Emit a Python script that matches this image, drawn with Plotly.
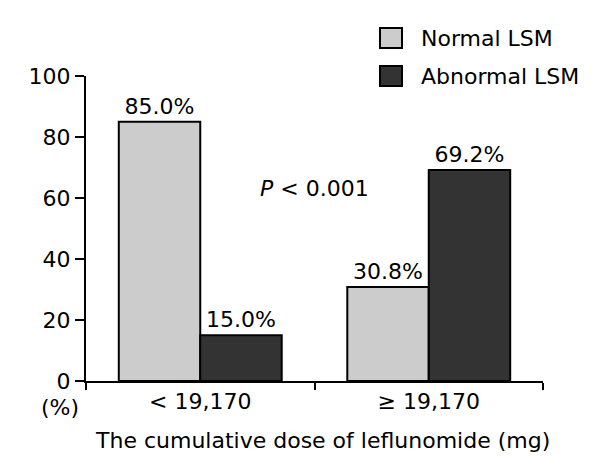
import plotly.graph_objects as go

categories = ["< 19,170", "≥ 19,170"]
normal_lsm = [85.0, 30.8]
abnormal_lsm = [15.0, 69.2]
y_ticks = [0, 20, 40, 60, 80, 100]
series_names = ["Normal LSM", "Abnormal LSM"]
series_colors = ["#cccccc", "#333333"]

FONT = "DejaVu Sans, Liberation Sans, Arial, sans-serif"
FS = 22

fig = go.Figure()
for name, vals, col in zip(series_names, [normal_lsm, abnormal_lsm], series_colors):
    fig.add_trace(go.Bar(
        x=categories, y=vals, name=name,
        marker=dict(color=col, line=dict(color="black", width=2)),
        texttemplate="%{y:.1f}%", textposition="outside",
        textfont=dict(family=FONT, size=FS, color="black"),
        constraintext="none", cliponaxis=False, showlegend=False,
    ))

# manual legend (key boxes + labels) in paper coordinates
W, H = 457, 305  # plot area size in px
def px_to_paper(x, y):
    return (x - 86) / W, (381 - y) / H

for i, (name, col) in enumerate(zip(series_names, series_colors)):
    cy = 38 + 38 * i
    x0, y0 = px_to_paper(380, cy - 10)
    x1, y1 = px_to_paper(402, cy + 10)
    fig.add_shape(type="rect", xref="paper", yref="paper",
                  x0=x0, x1=x1, y0=y1, y1=y0,
                  fillcolor=col, line=dict(color="black", width=2))
    tx, ty = px_to_paper(419, cy)
    fig.add_annotation(xref="paper", yref="paper", x=tx, y=ty,
                       text=name, showarrow=False, xanchor="left", yanchor="middle",
                       font=dict(family=FONT, size=FS, color="black"))

# P value
fig.add_annotation(xref="paper", yref="y", x=0.5, y=63,
                   text="<i>P</i> < 0.001", showarrow=False,
                   xanchor="center", yanchor="middle",
                   font=dict(family=FONT, size=FS, color="black"))
# (%) unit
ux, uy = px_to_paper(60, 407)
fig.add_annotation(xref="paper", yref="paper", x=ux, y=uy, text="(%)",
                   showarrow=False, xanchor="center", yanchor="middle",
                   font=dict(family=FONT, size=FS, color="black"))
# x-axis title
tx, ty = px_to_paper(322, 440)
fig.add_annotation(xref="paper", yref="paper", x=tx, y=ty,
                   text="The cumulative dose of leflunomide (mg)",
                   showarrow=False, xanchor="center", yanchor="middle",
                   font=dict(family=FONT, size=FS, color="black"))

fig.update_layout(
    width=600, height=475,
    margin=dict(l=78, r=65, t=68, b=102),
    paper_bgcolor="white", plot_bgcolor="white",
    barmode="group", bargap=0.287, bargroupgap=0,
    font=dict(family=FONT, size=FS, color="black"),
    showlegend=False,
)
fig.update_xaxes(
    showline=True, linecolor="black", linewidth=2,
    ticks="outside", tickson="boundaries", ticklen=7, tickwidth=2, tickcolor="black",
    showgrid=False, zeroline=False,
    tickfont=dict(family=FONT, size=FS, color="black"),
)
fig.update_yaxes(
    range=[0, 100], tickvals=y_ticks,
    showline=True, linecolor="black", linewidth=2,
    ticks="outside", ticklen=9, tickwidth=2, tickcolor="black",
    showgrid=False, zeroline=False,
    tickfont=dict(family=FONT, size=FS, color="black"),
)

fig.write_html("out.html")
